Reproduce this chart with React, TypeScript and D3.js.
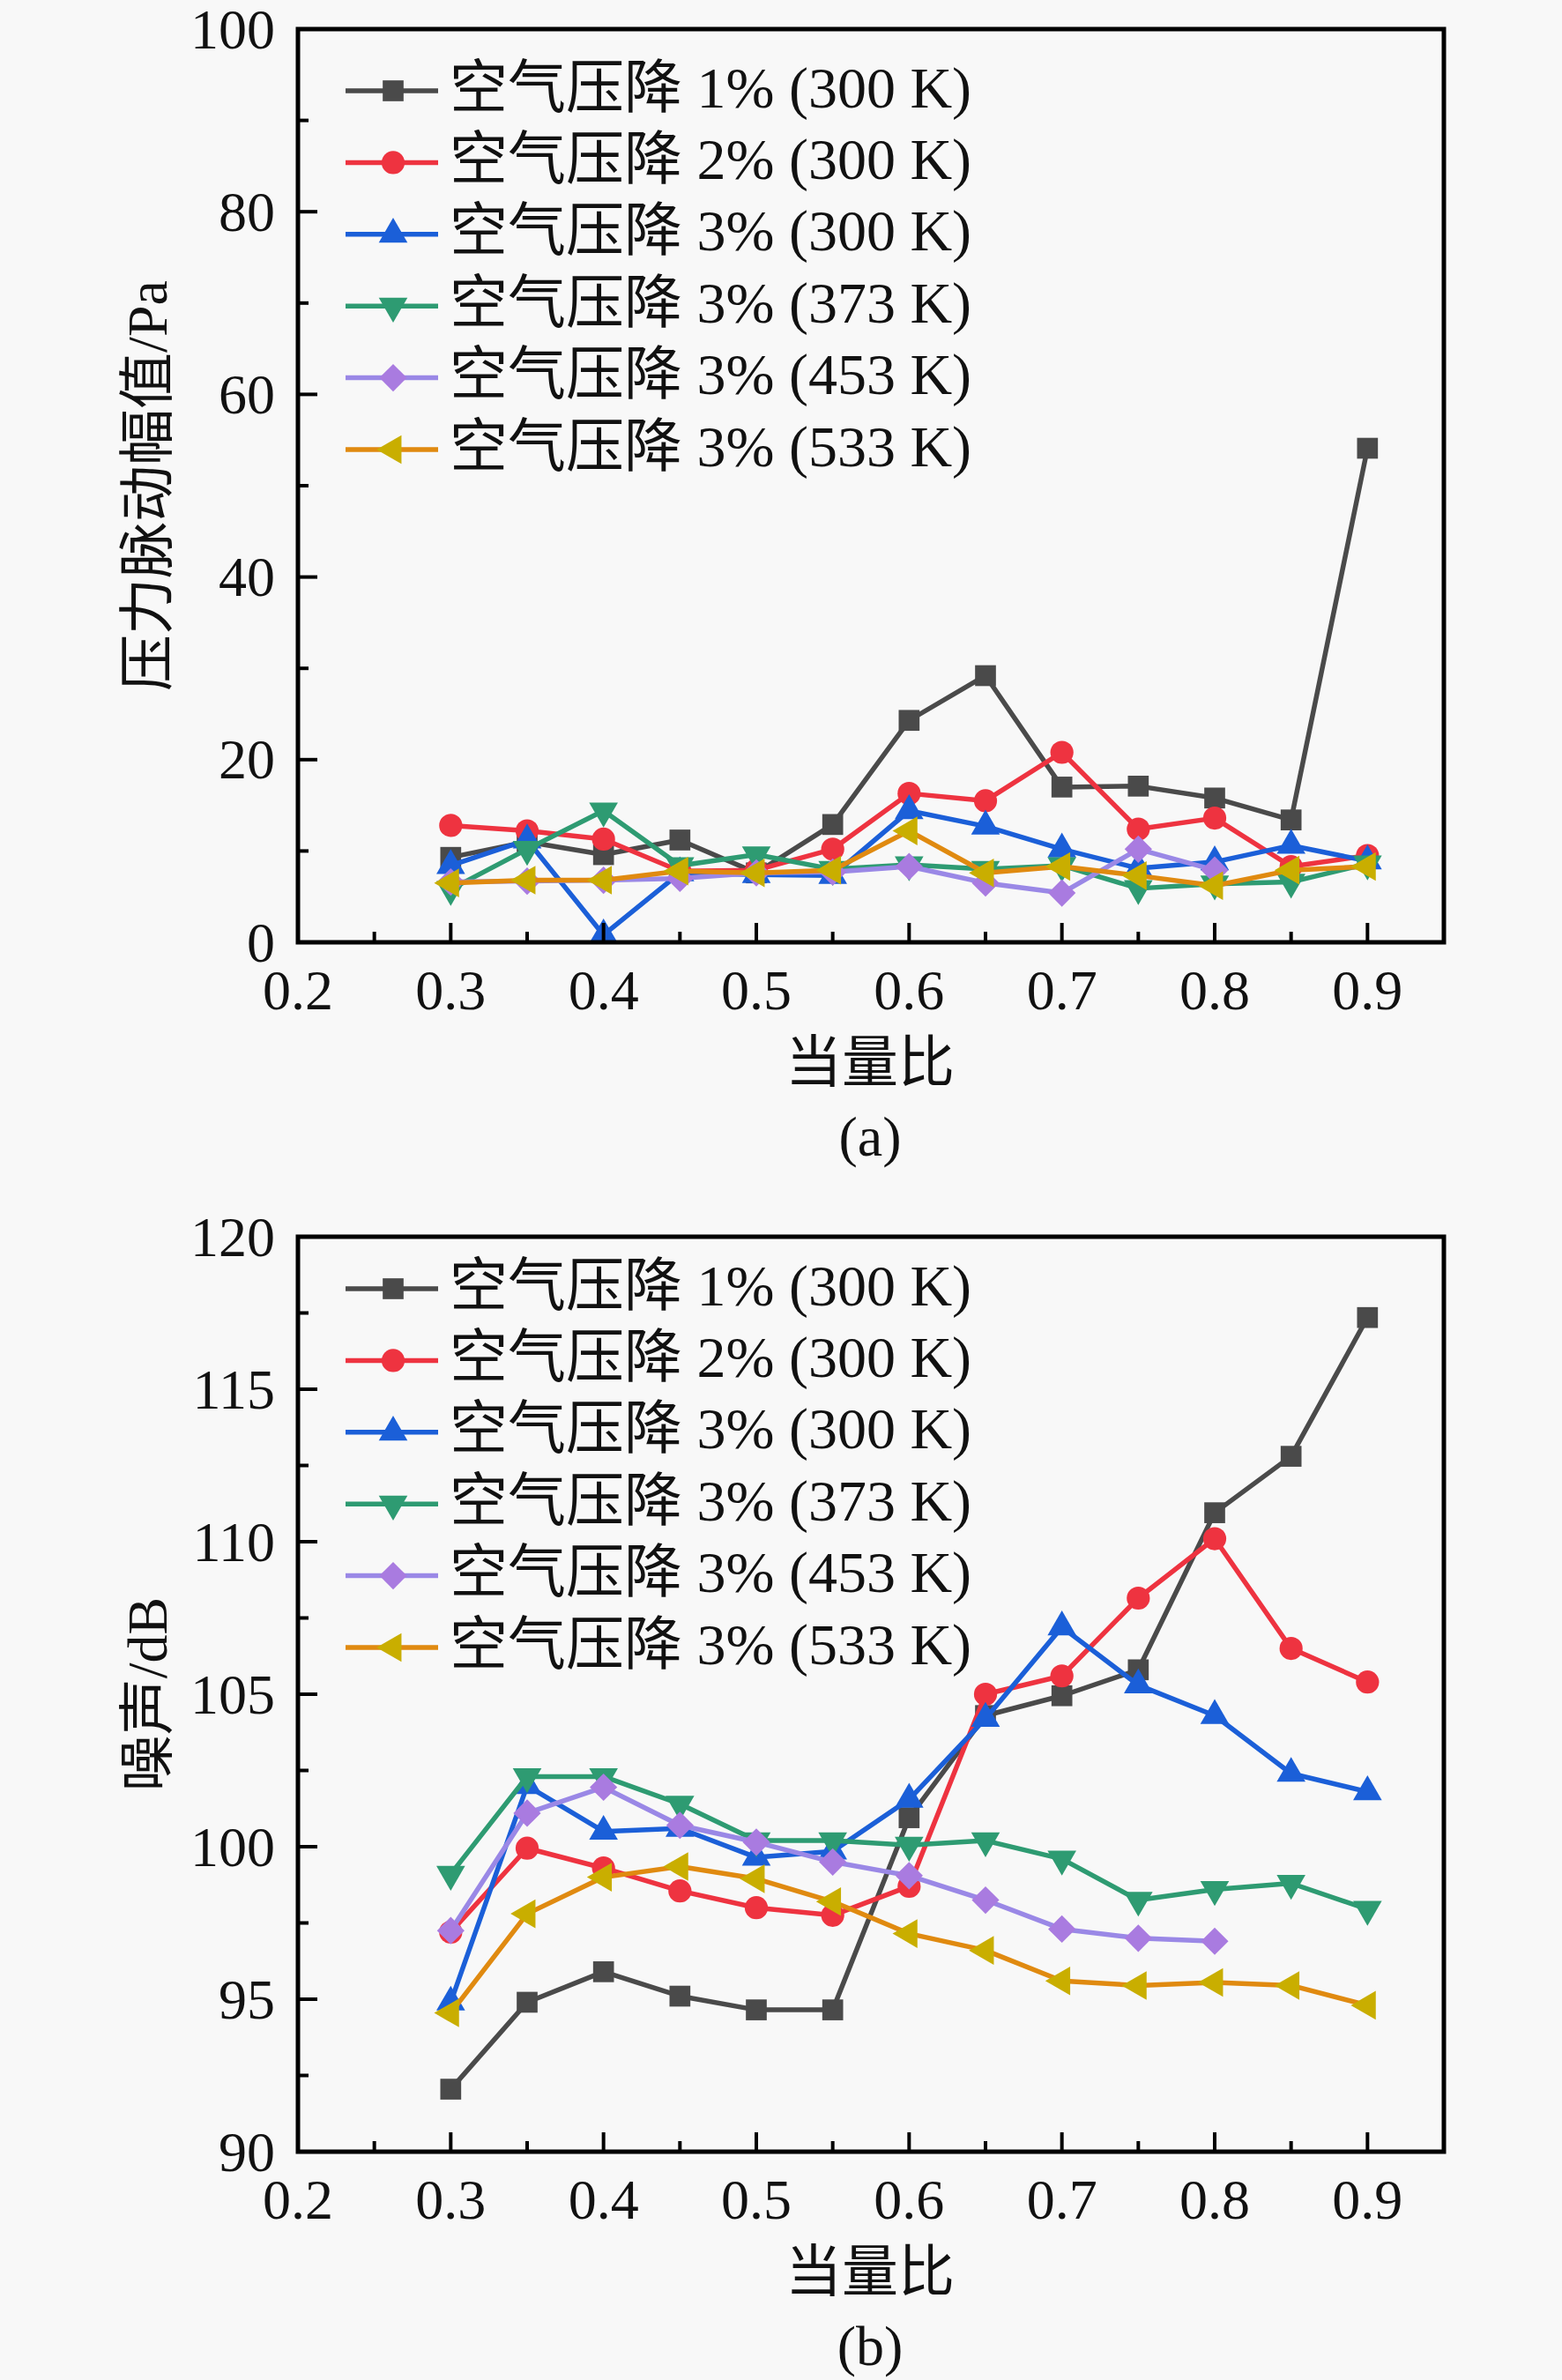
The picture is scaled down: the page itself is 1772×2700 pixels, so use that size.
import React from 'react';
import * as d3 from 'd3';

const phi = [0.3, 0.35, 0.4, 0.45, 0.5, 0.55, 0.6, 0.65, 0.7, 0.75, 0.8, 0.85, 0.9];
const seriesNames = [
  '空气压降 1% (300 K)',
  '空气压降 2% (300 K)',
  '空气压降 3% (300 K)',
  '空气压降 3% (373 K)',
  '空气压降 3% (453 K)',
  '空气压降 3% (533 K)',
];

// (a) pressure pulsation amplitude / Pa
const pulse1 = [9.3, 11.0, 9.6, 11.2, 7.6, 12.9, 24.3, 29.2, 17.0, 17.1, 15.8, 13.4, 54.1];
const pulse2 = [12.8, 12.2, 11.3, 7.8, 7.9, 10.2, 16.3, 15.5, 20.8, 12.4, 13.6, 8.3, 9.5];
const pulse3 = [8.4, 11.2, 0.8, 7.6, 7.4, 7.3, 14.4, 12.7, 10.2, 8.1, 8.8, 10.6, 8.9];
const pulse4 = [5.8, 10.2, 14.4, 8.4, 9.6, 8.0, 8.5, 8.0, 8.4, 5.9, 6.4, 6.6, 8.6];
const pulse5 = [6.6, 6.7, 6.8, 7.0, 7.6, 7.7, 8.3, 6.5, 5.4, 10.2, 7.9];
const pulse6 = [6.5, 6.8, 6.8, 7.8, 7.6, 7.9, 12.2, 7.6, 8.3, 7.3, 6.2, 7.9, 8.3];

// (b) noise / dB
const noise1 = [92.05, 94.9, 95.9, 95.1, 94.65, 94.65, 100.95, 104.3, 104.95, 105.8, 110.95, 112.8, 117.35];
const noise2 = [97.2, 99.95, 99.3, 98.55, 98.0, 97.75, 98.7, 105.0, 105.6, 108.15, 110.1, 106.5, 105.4];
const noise3 = [94.9, 102.0, 100.5, 100.6, 99.65, 99.85, 101.55, 104.2, 107.2, 105.3, 104.3, 102.4, 101.8];
const noise4 = [99.1, 102.3, 102.3, 101.4, 100.2, 100.2, 100.05, 100.2, 99.6, 98.25, 98.6, 98.8, 97.95];
const noise5 = [97.25, 101.1, 101.95, 100.7, 100.15, 99.5, 99.05, 98.25, 97.3, 97.0, 96.9];
const noise6 = [94.55, 97.8, 99.0, 99.35, 98.95, 98.2, 97.15, 96.6, 95.6, 95.45, 95.55, 95.45, 94.8];

const xTicks = [0.2, 0.3, 0.4, 0.5, 0.6, 0.7, 0.8, 0.9];
const yTicksA = [0, 20, 40, 60, 80, 100];
const yTicksB = [90, 95, 100, 105, 110, 115, 120];

const lineColors = ['#4a4a4a', '#ee3340', '#1b5fd8', '#2e9b72', '#9a88e6', '#e08a10'];
const markerColors = ['#4a4a4a', '#ee3340', '#1b5fd8', '#2e9b72', '#a97be0', '#c9ae00'];

const FONT = "'Liberation Serif', 'Noto Sans CJK SC', serif";

type Sym = { type: d3.SymbolType; size: number; rot: number };
const symbols: Sym[] = [
  { type: d3.symbolSquare, size: 560, rot: 0 },
  { type: d3.symbolCircle, size: 540, rot: 0 },
  { type: d3.symbolTriangle, size: 460, rot: 0 },
  { type: d3.symbolTriangle, size: 460, rot: 180 },
  { type: d3.symbolDiamond2, size: 620, rot: 0 },
  { type: d3.symbolTriangle, size: 460, rot: -90 },
];

function Marker({ i, x, y }: { i: number; x: number; y: number }) {
  const s = symbols[i];
  const d = d3.symbol(s.type, s.size)() || '';
  return (
    <path
      d={d}
      transform={`translate(${x},${y}) rotate(${s.rot})`}
      fill={markerColors[i]}
      stroke="none"
    />
  );
}

type PanelProps = {
  top: number;
  bottom: number;
  yDomain: [number, number];
  yTicks: number[];
  yMinorStep: number;
  data: number[][];
  yTitle: string;
  caption: string;
  legendTop: number;
};

const LEFT = 338;
const RIGHT = 1638;

function Panel({ top, bottom, yDomain, yTicks, yMinorStep, data, yTitle, caption, legendTop }: PanelProps) {
  const x = d3.scaleLinear().domain([0.2, 0.95]).range([LEFT, RIGHT]);
  const y = d3.scaleLinear().domain(yDomain).range([bottom, top]);
  const minorX = d3.range(0.25, 0.951, 0.1);
  const minorY = d3.range(yDomain[0] + yMinorStep, yDomain[1], yMinorStep * 2);
  const line = d3
    .line<number>()
    .x((_, j) => x(phi[j]))
    .y((v) => y(v));
  const rowH = 81.4;
  return (
    <g>
      {data.map((vals, i) => (
        <g key={i}>
          <path d={line(vals) || ''} fill="none" stroke={lineColors[i]} strokeWidth={5.5} strokeLinejoin="round" />
          {vals.map((v, j) => (
            <Marker key={j} i={i} x={x(phi[j])} y={y(v)} />
          ))}
        </g>
      ))}
      {/* legend */}
      {seriesNames.map((name, i) => {
        const ly = legendTop + i * rowH;
        return (
          <g key={i}>
            <line x1={392} x2={497} y1={ly} y2={ly} stroke={lineColors[i]} strokeWidth={5.5} />
            <Marker i={i} x={446} y={ly} />
            <text x={510} y={ly - 4} dominantBaseline="central" fontFamily={FONT} fontSize={66} fill="#111">
              {name}
            </text>
          </g>
        );
      })}
      {/* ticks */}
      {xTicks.map((t) => (
        <line key={'xt' + t} x1={x(t)} x2={x(t)} y1={bottom} y2={bottom - 22} stroke="#000" strokeWidth={4} />
      ))}
      {minorX.map((t) => (
        <line key={'xm' + t} x1={x(t)} x2={x(t)} y1={bottom} y2={bottom - 12} stroke="#000" strokeWidth={4} />
      ))}
      {yTicks.map((t) => (
        <line key={'yt' + t} x1={LEFT} x2={LEFT + 22} y1={y(t)} y2={y(t)} stroke="#000" strokeWidth={4} />
      ))}
      {minorY.map((t) => (
        <line key={'ym' + t} x1={LEFT} x2={LEFT + 12} y1={y(t)} y2={y(t)} stroke="#000" strokeWidth={4} />
      ))}
      {/* frame */}
      <rect x={LEFT} y={top} width={RIGHT - LEFT} height={bottom - top} fill="none" stroke="#000" strokeWidth={5} />
      {/* tick labels */}
      {xTicks.map((t) => (
        <text key={'xl' + t} x={x(t)} y={bottom + 54} textAnchor="middle" dominantBaseline="central" fontFamily={FONT} fontSize={64} fill="#111">
          {d3.format('.1f')(t)}
        </text>
      ))}
      {yTicks.map((t) => (
        <text key={'yl' + t} x={LEFT - 26} y={y(t)} textAnchor="end" dominantBaseline="central" fontFamily={FONT} fontSize={64} fill="#111">
          {t}
        </text>
      ))}
      {/* axis titles */}
      <text x={987} y={bottom + 136} textAnchor="middle" dominantBaseline="central" fontFamily={FONT} fontSize={64} fill="#111">
        当量比
      </text>
      <text x={987} y={bottom + 220} textAnchor="middle" dominantBaseline="central" fontFamily={FONT} fontSize={64} fill="#111">
        {caption}
      </text>
      <text
        transform={`translate(167,${(top + bottom) / 2}) rotate(-90)`}
        textAnchor="middle"
        dominantBaseline="central"
        fontFamily={FONT}
        fontSize={64}
        fill="#111"
      >
        {yTitle}
      </text>
    </g>
  );
}

export default function App() {
  return (
    <svg
      width={1772}
      height={2700}
      viewBox="0 0 1772 2700"
      style={{ position: 'absolute', left: 0, top: 0, display: 'block' }}
    >
      <rect x={0} y={0} width={1772} height={2700} fill="#f8f8f8" />
      <Panel
        top={33}
        bottom={1069}
        yDomain={[0, 100]}
        yTicks={yTicksA}
        yMinorStep={10}
        data={[pulse1, pulse2, pulse3, pulse4, pulse5, pulse6]}
        yTitle="压力脉动幅值/Pa"
        caption="(a)"
        legendTop={103}
      />
      <Panel
        top={1403}
        bottom={2441}
        yDomain={[90, 120]}
        yTicks={yTicksB}
        yMinorStep={2.5}
        data={[noise1, noise2, noise3, noise4, noise5, noise6]}
        yTitle="噪声/dB"
        caption="(b)"
        legendTop={1462}
      />
    </svg>
  );
}
